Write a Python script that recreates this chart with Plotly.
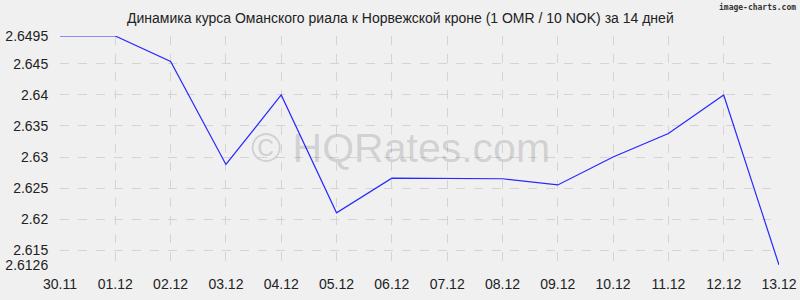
import plotly.graph_objects as go

dates = ["30.11", "01.12", "02.12", "03.12", "04.12", "05.12", "06.12",
         "07.12", "08.12", "09.12", "10.12", "11.12", "12.12", "13.12"]
rates = [2.6495, 2.6495, 2.6454, 2.6288, 2.6400, 2.6210, 2.6266,
         2.6266, 2.6265, 2.6255, 2.6300, 2.6338, 2.6400, 2.6126]
y_ticks = [2.6126, 2.615, 2.62, 2.625, 2.63, 2.635, 2.64, 2.645, 2.6495]
y_tick_text = ["2.6126", "2.615", "2.62", "2.625", "2.63", "2.635", "2.64", "2.645", "2.6495"]

L, R, T, B = 60, 21, 36, 35
W, H = 800, 300
plot_w = W - L - R
plot_h = H - T - B

fig = go.Figure()
fig.add_trace(go.Scatter(x=list(range(len(dates))), y=rates, mode="lines",
                         line=dict(color="#2828ff", width=1.2), hoverinfo="skip"))

font = "Liberation Sans, Arial, sans-serif"
fig.update_layout(
    width=W, height=H,
    margin=dict(l=L, r=R, t=T, b=B, autoexpand=False),
    paper_bgcolor="#f0f0f0", plot_bgcolor="#f0f0f0",
    showlegend=False,
    font=dict(family=font, size=14, color="#222"),
    xaxis=dict(tickvals=list(range(len(dates))), ticktext=dates, automargin=False,
               range=[0, len(dates) - 1], showgrid=True, gridcolor="#d4d4d4",
               griddash="dash", gridwidth=1, zeroline=False, showline=False,
               ticks="outside", ticklen=6, tickcolor="rgba(0,0,0,0)",
               tickfont=dict(size=14, family=font, color="#222")),
    yaxis=dict(tickvals=y_ticks, ticktext=y_tick_text, automargin=False,
               range=[min(rates), max(rates)], showgrid=True, gridcolor="#d4d4d4",
               griddash="dash", gridwidth=1, zeroline=False, showline=False,
               ticks="outside", ticklen=8, tickcolor="rgba(0,0,0,0)",
               tickfont=dict(size=14, family=font, color="#222")),
    annotations=[
        dict(text="Динамика курса Оманского риала к Норвежской кроне (1 OMR / 10 NOK) за 14 дней",
             x=(400 - L) / plot_w, y=1 + (T - 18) / plot_h, xref="paper", yref="paper",
             xanchor="center", yanchor="middle", showarrow=False,
             font=dict(size=14, family=font, color="#222")),
        dict(text="© HQRates.com", x=(400 - L) / plot_w, y=1 - (148 - T) / plot_h,
             xref="paper", yref="paper", xanchor="center", yanchor="middle",
             showarrow=False, font=dict(size=41, family=font, color="rgba(0,0,0,0.15)")),
        dict(text="<b>image-charts.com</b>", x=1 + (R - 2) / plot_w, y=1 + (T - 7) / plot_h,
             xref="paper", yref="paper", xanchor="right", yanchor="middle",
             showarrow=False, font=dict(size=8, family="DejaVu Sans Mono", color="#333")),
    ],
)
fig.write_html("out.html")
